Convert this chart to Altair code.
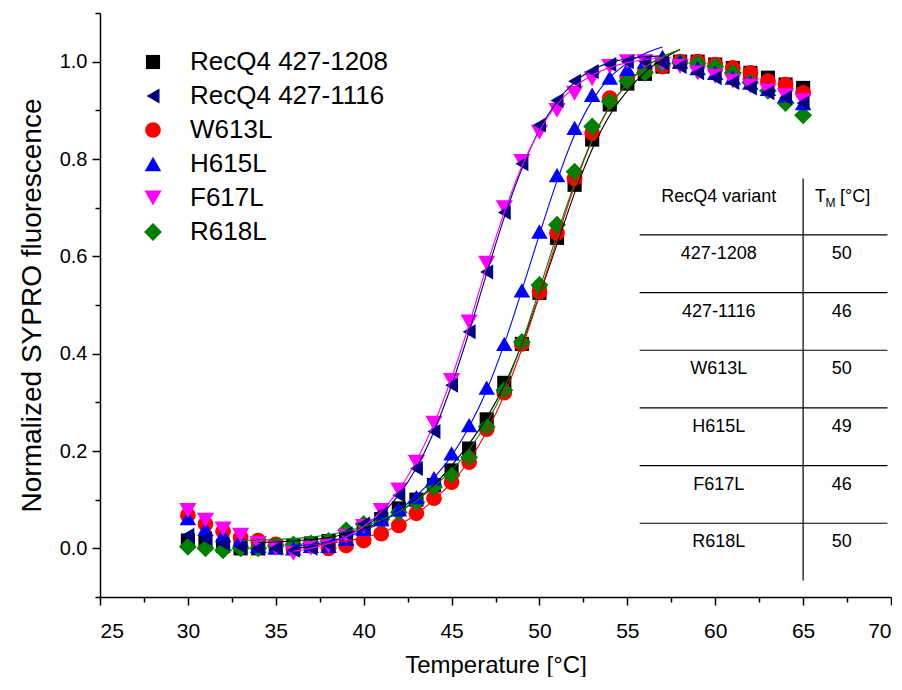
import altair as alt
import pandas as pd

# ---------------- data ----------------
temperature = list(range(30, 66))

series_names = ["RecQ4 427-1208", "RecQ4 427-1116", "W613L", "H615L", "F617L", "R618L"]
series_colors = ["#000000", "#000080", "#FF0000", "#0000FF", "#FF00FF", "#008000"]
series_shapes = ["square", "triangle-left", "circle", "triangle-up", "triangle-down", "diamond"]

val_427_1208 = [0.016, 0.012, 0.005, 0.0, 0.0, 0.002, 0.005, 0.01, 0.015, 0.025,
                0.04, 0.06, 0.082, 0.1, 0.13, 0.16, 0.205, 0.265, 0.34, 0.42,
                0.525, 0.638, 0.747, 0.84, 0.912, 0.955, 0.975, 0.99, 1.0, 1.0,
                0.994, 0.987, 0.977, 0.967, 0.953, 0.946]
val_427_1116 = [0.027, 0.02, 0.01, 0.003, 0.0, 0.0, -0.004, 0.0, 0.007, 0.03,
                0.05, 0.072, 0.109, 0.164, 0.24, 0.335, 0.445, 0.568, 0.69, 0.79,
                0.87, 0.92, 0.96, 0.98, 0.994, 1.0, 1.0, 0.997, 0.99, 0.977,
                0.967, 0.957, 0.946, 0.936, 0.926, 0.915]
val_W613L = [0.068, 0.05, 0.035, 0.022, 0.016, 0.008, 0.0, 0.005, 0.0, 0.006,
             0.016, 0.03, 0.047, 0.072, 0.103, 0.136, 0.177, 0.245, 0.32, 0.42,
             0.527, 0.648, 0.76, 0.853, 0.925, 0.967, 0.98, 0.99, 1.0, 1.0,
             0.994, 0.987, 0.977, 0.96, 0.953, 0.936]
val_H615L = [0.062, 0.04, 0.027, 0.018, 0.005, 0.002, 0.0, 0.005, 0.005, 0.02,
             0.04, 0.06, 0.08, 0.105, 0.144, 0.195, 0.253, 0.33, 0.42, 0.53,
             0.651, 0.767, 0.864, 0.932, 0.967, 0.985, 1.0, 1.01, 1.0, 0.987,
             0.977, 0.967, 0.957, 0.944, 0.93, 0.915]
val_F617L = [0.078, 0.058, 0.04, 0.027, 0.01, 0.0, -0.01, 0.0, 0.005, 0.025,
             0.045, 0.078, 0.12, 0.177, 0.257, 0.345, 0.465, 0.586, 0.70, 0.795,
             0.855, 0.9, 0.935, 0.965, 0.99, 1.0, 1.0, 0.995, 0.99, 0.977,
             0.97, 0.96, 0.95, 0.94, 0.93, 0.92]
val_R618L = [0.003, 0.0, -0.004, 0.0, 0.0, 0.005, 0.008, 0.01, 0.015, 0.037,
             0.05, 0.06, 0.074, 0.095, 0.126, 0.15, 0.187, 0.25, 0.325, 0.424,
             0.541, 0.665, 0.774, 0.867, 0.918, 0.96, 0.977, 0.995, 0.998, 0.996,
             0.99, 0.977, 0.957, 0.94, 0.915, 0.89]

# fitted curves
fit_t_427_1208 = list(range(34, 59))
fit_427_1208 = [0.012, 0.013, 0.015, 0.018, 0.022, 0.03, 0.04, 0.055, 0.075, 0.1,
                0.13, 0.17, 0.215, 0.268, 0.335, 0.42, 0.52, 0.625, 0.73, 0.82,
                0.89, 0.94, 0.978, 1.005, 1.025]
fit_t_427_1116 = list(range(36, 58))
fit_427_1116 = [0.0, 0.004, 0.012, 0.025, 0.043, 0.07, 0.11, 0.165, 0.24, 0.335,
                0.445, 0.565, 0.68, 0.78, 0.86, 0.918, 0.958, 0.983, 0.998, 1.006,
                1.01, 1.012]
fit_t_W613L = list(range(37, 59))
fit_W613L = [0.008, 0.01, 0.015, 0.022, 0.032, 0.048, 0.07, 0.1, 0.135, 0.18,
             0.24, 0.315, 0.41, 0.52, 0.635, 0.745, 0.838, 0.907, 0.955, 0.988,
             1.01, 1.025]
fit_t_H615L = list(range(36, 58))
fit_H615L = [0.005, 0.008, 0.014, 0.023, 0.036, 0.054, 0.078, 0.108, 0.145, 0.19,
             0.25, 0.325, 0.42, 0.53, 0.645, 0.755, 0.85, 0.92, 0.967, 0.997,
             1.017, 1.03]
fit_t_F617L = list(range(36, 58))
fit_F617L = [-0.006, 0.0, 0.01, 0.024, 0.045, 0.076, 0.12, 0.18, 0.256, 0.35,
             0.46, 0.58, 0.69, 0.785, 0.858, 0.912, 0.948, 0.972, 0.988, 0.998,
             1.004, 1.008]
fit_t_R618L = list(range(33, 59))
fit_R618L = [0.016, 0.017, 0.018, 0.02, 0.023, 0.028, 0.035, 0.045, 0.058, 0.075,
             0.098, 0.127, 0.16, 0.203, 0.258, 0.328, 0.422, 0.532, 0.645, 0.75,
             0.84, 0.908, 0.955, 0.988, 1.01, 1.025]

table_variants = ["427-1208", "427-1116", "W613L", "H615L", "F617L", "R618L"]
table_tm = ["50", "46", "50", "49", "46", "50"]

# ---------------- build tables ----------------
point_values = {
    "RecQ4 427-1208": val_427_1208,
    "RecQ4 427-1116": val_427_1116,
    "W613L": val_W613L,
    "H615L": val_H615L,
    "F617L": val_F617L,
    "R618L": val_R618L,
}
fit_values = {
    "RecQ4 427-1208": (fit_t_427_1208, fit_427_1208),
    "RecQ4 427-1116": (fit_t_427_1116, fit_427_1116),
    "W613L": (fit_t_W613L, fit_W613L),
    "H615L": (fit_t_H615L, fit_H615L),
    "F617L": (fit_t_F617L, fit_F617L),
    "R618L": (fit_t_R618L, fit_R618L),
}

draw_order = ["RecQ4 427-1208", "W613L", "R618L", "H615L", "F617L", "RecQ4 427-1116"]
rows = []
for name in draw_order:
    for t, v in zip(temperature, point_values[name]):
        rows.append({"T": t, "F": v, "series": name})
points_df = pd.DataFrame(rows)

FONT = "Liberation Sans"
X_DOMAIN = [25, 70]
Y_DOMAIN = [-0.1, 1.1]

x_scale = alt.Scale(domain=X_DOMAIN, nice=False, zero=False)
y_scale = alt.Scale(domain=Y_DOMAIN, nice=False, zero=False)

x_axis = alt.Axis(
    title="Temperature [°C]",
    values=[25 + 2.5 * i for i in range(19)],
    labelExpr="datum.value % 5 === 0 ? datum.label : ''",
    tickSize={"condition": {"test": "datum.value % 5 === 0", "value": 8}, "value": 5},
    labelPadding=15,
    labelFontSize=21,
    titlePadding=12,
    grid=False,
)
y_axis = alt.Axis(
    title="Normalized SYPRO fluorescence",
    values=[round(0.1 * i, 1) for i in range(-1, 12)],
    labelExpr="abs(round(datum.value * 10)) % 2 === 0 ? format(datum.value, '.1f') : ''",
    tickSize={"condition": {"test": "abs(round(datum.value * 10)) % 2 === 0", "value": 8}, "value": 5},
    labelPadding=5,
    titlePadding=13,
    titleFontSize=28,
    grid=False,
)

size_range = [200, 320, 220, 320, 320, 300]

legend_props = dict(
    title=None,
    orient="none",
    legendX=40,
    legendY=36,
    labelFontSize=26,
    labelFont=FONT,
    labelColor="black",
    symbolSize=220,
    symbolStrokeWidth=0,
    labelOffset=24,
    rowPadding=8,
    padding=0,
    labelLimit=400,
)

points = alt.Chart(points_df).mark_point(filled=True, opacity=1, strokeWidth=0).encode(
    x=alt.X("T:Q", scale=x_scale, axis=x_axis),
    y=alt.Y("F:Q", scale=y_scale, axis=y_axis),
    color=alt.Color(
        "series:N",
        scale=alt.Scale(domain=series_names, range=series_colors),
        legend=alt.Legend(**legend_props),
    ),
    shape=alt.Shape(
        "series:N",
        scale=alt.Scale(domain=series_names, range=series_shapes),
        legend=alt.Legend(**legend_props),
    ),
    size=alt.Size("series:N", scale=alt.Scale(domain=series_names, range=size_range), legend=None),
)

line_layers = []
for name, col in zip(series_names, series_colors):
    ts, vs = fit_values[name]
    df = pd.DataFrame({"T": ts, "F": vs})
    line_layers.append(
        alt.Chart(df).mark_line(color=col, strokeWidth=1.1, interpolate="monotone").encode(
            x=alt.X("T:Q", scale=x_scale),
            y=alt.Y("F:Q", scale=y_scale),
        )
    )

# ---------------- the inset table ----------------
TABLE_X0, TABLE_X1 = 55.7, 69.8
TABLE_MID = 65.0
ROW_LINE_TOP = 0.644
ROW_STEP = 0.1185
HEADER_Y = 0.722
ROW_TEXT_TOP = 0.605
LEFT_COL = 60.2
RIGHT_COL = 67.2
TABLE_FONT = 18

hline_df = pd.DataFrame({
    "y": [ROW_LINE_TOP - ROW_STEP * i for i in range(len(table_variants))],
    "x": [TABLE_X0] * len(table_variants),
    "x2": [TABLE_X1] * len(table_variants),
})
hlines = alt.Chart(hline_df).mark_rule(color="black", strokeWidth=1.2).encode(
    x=alt.X("x:Q", scale=x_scale), x2="x2:Q", y=alt.Y("y:Q", scale=y_scale)
)
vline_df = pd.DataFrame({"x": [TABLE_MID], "y": [0.76], "y2": [-0.066]})
vline = alt.Chart(vline_df).mark_rule(color="black", strokeWidth=1.2).encode(
    x=alt.X("x:Q", scale=x_scale), y=alt.Y("y:Q", scale=y_scale), y2="y2:Q"
)

cell_df = pd.DataFrame({
    "text": table_variants + table_tm,
    "x": [LEFT_COL] * len(table_variants) + [RIGHT_COL] * len(table_tm),
    "y": [ROW_TEXT_TOP - ROW_STEP * i for i in range(len(table_variants))] * 2,
})
cells = alt.Chart(cell_df).mark_text(font=FONT, fontSize=TABLE_FONT, color="black", align="center", baseline="middle").encode(
    x=alt.X("x:Q", scale=x_scale), y=alt.Y("y:Q", scale=y_scale), text="text:N"
)

header_df = pd.DataFrame({"text": ["RecQ4 variant"], "x": [LEFT_COL], "y": [HEADER_Y]})
header = alt.Chart(header_df).mark_text(font=FONT, fontSize=TABLE_FONT, color="black", align="center", baseline="middle").encode(
    x=alt.X("x:Q", scale=x_scale), y=alt.Y("y:Q", scale=y_scale), text="text:N"
)
tm_T = alt.Chart(pd.DataFrame({"text": ["T"], "x": [65.67], "y": [HEADER_Y]})).mark_text(
    font=FONT, fontSize=TABLE_FONT, color="black", align="left", baseline="middle"
).encode(x=alt.X("x:Q", scale=x_scale), y=alt.Y("y:Q", scale=y_scale), text="text:N")
tm_M = alt.Chart(pd.DataFrame({"text": ["M"], "x": [66.27], "y": [HEADER_Y - 0.013]})).mark_text(
    font=FONT, fontSize=12, color="black", align="left", baseline="middle"
).encode(x=alt.X("x:Q", scale=x_scale), y=alt.Y("y:Q", scale=y_scale), text="text:N")
tm_C = alt.Chart(pd.DataFrame({"text": ["[°C]"], "x": [67.1], "y": [HEADER_Y]})).mark_text(
    font=FONT, fontSize=TABLE_FONT, color="black", align="left", baseline="middle"
).encode(x=alt.X("x:Q", scale=x_scale), y=alt.Y("y:Q", scale=y_scale), text="text:N")

chart = alt.layer(
    points, *line_layers, hlines, vline, cells, header, tm_T, tm_M, tm_C
).properties(
    width=791,
    height=584,
    autosize=alt.AutoSizeParams(type="none"),
    padding={"left": 92, "top": 5, "right": 1, "bottom": 80},
).configure_view(
    stroke=None
).configure_axis(
    domainColor="black",
    domainWidth=1.5,
    tickColor="black",
    tickWidth=1.5,
    labelFont=FONT,
    labelFontSize=20,
    labelColor="black",
    titleFont=FONT,
    titleFontSize=24,
    titleFontWeight="normal",
    titleColor="black",
)

chart.save("out.html", embed_options={"renderer": "svg", "actions": False})
